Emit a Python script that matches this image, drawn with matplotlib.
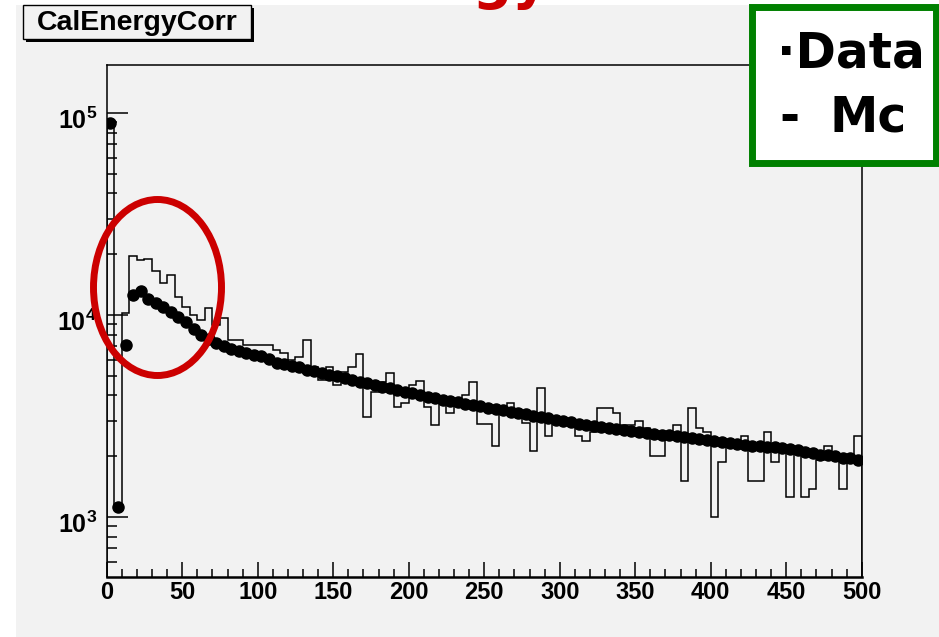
import numpy as np
import matplotlib.pyplot as plt
import matplotlib.transforms as mtransforms
from matplotlib.patches import Rectangle, Ellipse
from matplotlib.ticker import LogLocator, FuncFormatter, MultipleLocator, NullFormatter

plt.rcParams['font.family'] = ['Liberation Sans', 'DejaVu Sans']
plt.rcParams['mathtext.fontset'] = 'custom'
plt.rcParams['mathtext.bf'] = 'Liberation Sans:bold'
plt.rcParams['mathtext.rm'] = 'Liberation Sans'

# CalEnergyCorr, 5-unit bins from 0 to 500
bin_edges = np.linspace(0, 500, 101)

data_counts = [
    89000, 1120, 7080, 12600, 13200, 12000, 11500, 11000, 10350, 9770,
    9230, 8510, 7940, 7590, 7240, 7000, 6760, 6610, 6460, 6310,
    6240, 6030, 5820, 5690, 5620, 5500, 5370, 5310, 5190, 5070,
    5010, 4900, 4790, 4680, 4620, 4520, 4420, 4370, 4270, 4170,
    4120, 4030, 3940, 3890, 3800, 3760, 3720, 3630, 3590, 3550,
    3470, 3430, 3390, 3310, 3270, 3240, 3160, 3130, 3090, 3020,
    2990, 2950, 2880, 2850, 2820, 2790, 2750, 2720, 2690, 2660,
    2630, 2600, 2570, 2560, 2540, 2510, 2480, 2450, 2430, 2400,
    2370, 2340, 2320, 2290, 2280, 2260, 2240, 2230, 2210, 2190,
    2160, 2140, 2110, 2070, 2040, 2020, 2000, 1970, 1950, 1910,
]

mc_counts = [
    92000, 1150, 10200, 19600, 18700, 18900, 16500, 14400, 15800, 12300,
    11000, 10000, 9440, 10800, 8900, 9660, 7520, 7520, 7080, 7080,
    7100, 7100, 6710, 6490, 5980, 6170, 7520, 5500, 4770, 5500,
    4500, 5240, 5500, 6410, 3130, 4170, 4660, 5170, 3510, 3670,
    4500, 4710, 3510, 2850, 3930, 3270, 3800, 4020, 4660, 2880,
    2880, 2240, 3470, 3670, 3390, 2920, 2120, 4360, 2510, 3060,
    3020, 2920, 2510, 2380, 2630, 3470, 3470, 3270, 2850, 2850,
    3000, 2770, 2000, 2000, 2450, 2850, 1510, 3470, 2750, 2630,
    1000, 1870, 2320, 2340, 2510, 1510, 1510, 2630, 1870, 2240,
    1260, 2080, 1260, 1380, 1910, 2240, 2080, 1380, 2030, 2510,
]

bin_centers = (bin_edges[:-1] + bin_edges[1:]) / 2

W, H = 939, 637
fig = plt.figure(figsize=(W / 100, H / 100), dpi=100)
fig.patch.set_facecolor('white')
# grey ROOT canvas
fig.add_artist(Rectangle((16 / W, 0), 1, 1 - 5 / H, transform=fig.transFigure,
                         facecolor='#f2f2f2', edgecolor='none', zorder=-10))

ax = fig.add_axes([106.7 / W, 1 - 577 / H, (861.7 - 106.7) / W, (577 - 65) / H])
ax.set_facecolor('#f2f2f2')
ax.set_yscale('log')
ax.set_xlim(0, 500)
ax.set_ylim(505, 172800)

ax.stairs(mc_counts, bin_edges, baseline=1, color='black', lw=1.1, zorder=2)
ax.plot(bin_centers, data_counts, 'o', color='black', ms=8, zorder=3)

ax.xaxis.set_major_locator(MultipleLocator(50))
ax.xaxis.set_minor_locator(MultipleLocator(10))
ax.yaxis.set_major_locator(LogLocator(base=10, numticks=10))
ax.yaxis.set_minor_locator(LogLocator(base=10, subs=np.arange(2, 10), numticks=20))
ax.yaxis.set_minor_formatter(NullFormatter())
ax.yaxis.set_major_formatter(FuncFormatter(lambda v, p: r'$\mathbf{10^{%d}}$' % round(np.log10(v))))

ax.tick_params(axis='x', which='major', direction='in', length=10.8, width=1.1, pad=3, labelsize=17)
ax.tick_params(axis='x', which='minor', direction='in', length=5.8, width=1.1)
ax.tick_params(axis='y', which='major', direction='in', length=15, width=1.1, pad=7, labelsize=18)
ax.tick_params(axis='y', which='minor', direction='in', length=7.2, width=1.1)
for lbl in ax.get_xticklabels():
    lbl.set_fontweight('bold')
# ROOT puts the exponent labels a little below the tick
shift = mtransforms.ScaledTranslation(0, -5 / 100, fig.dpi_scale_trans)
for lbl in ax.get_yticklabels():
    lbl.set_transform(lbl.get_transform() + shift)

for s in ['left', 'top', 'right']:
    ax.spines[s].set_linewidth(1.1)
ax.spines['bottom'].set_linewidth(1.8)

# overlay in pixel coordinates for the annotations
ov = fig.add_axes([0, 0, 1, 1], zorder=5)
ov.set_xlim(0, W)
ov.set_ylim(H, 0)
ov.axis('off')

# title box with shadow
ov.add_patch(Rectangle((26, 8), 228, 34, facecolor='black', edgecolor='none'))
ov.add_patch(Rectangle((23, 5), 228, 34, facecolor='#f2f2f2', edgecolor='black', lw=1))
ov.text(137, 22.5, 'CalEnergyCorr', fontsize=20.5, fontweight='bold', ha='center', va='center')

# red slide title, mostly above the picture: only the descenders show
ov.text(549, -2.5, 'Energy', color='#cc0000', fontsize=40, fontweight='bold',
        family='DejaVu Sans', ha='right', va='baseline', clip_on=False)

# red ellipse
ov.add_patch(Ellipse((157.5, 287.5), 128, 176, fill=False, edgecolor='#cc0000', lw=5))

# green legend box
ov.add_patch(Rectangle((751.5, 6.5), 184, 156, facecolor='white', edgecolor='#008000',
                       lw=5, clip_on=False))
ov.text(777, 53, '·Data', fontsize=35, fontweight='bold', family='DejaVu Sans',
        ha='left', va='center')
ov.text(779, 118, '-', fontsize=35, fontweight='bold', family='DejaVu Sans',
        ha='left', va='center')
ov.text(830, 118, 'Mc', fontsize=35, fontweight='bold', family='DejaVu Sans',
        ha='left', va='center')

fig.savefig('out.png', dpi=100)
